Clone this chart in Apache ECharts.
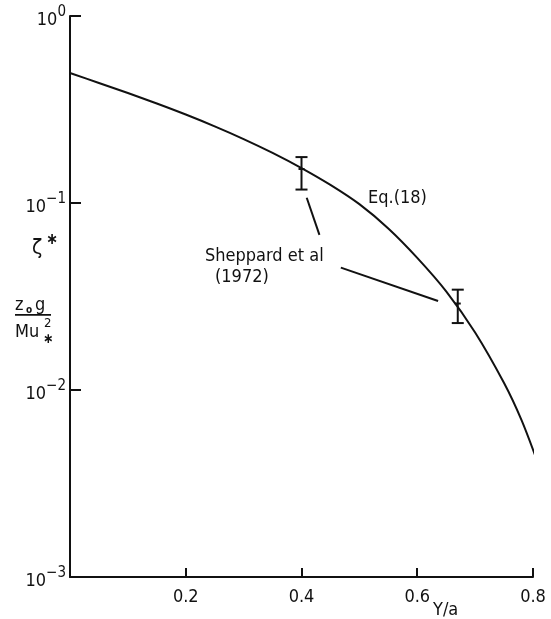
<!DOCTYPE html>
<html>
<head>
<meta charset="utf-8">
<script src="https://cdn.jsdelivr.net/npm/echarts@6/dist/echarts.min.js"></script>
<style>html,body{margin:0;padding:0;background:#fff;}#c{width:551px;height:619px;}</style>
</head>
<body>
<div id="c"></div>
<script>
// Curve Eq.(18)
const curveX = [0, 0.05, 0.1, 0.15, 0.2, 0.25, 0.3, 0.35, 0.4, 0.45, 0.5, 0.55, 0.6, 0.65, 0.7, 0.75, 0.78, 0.806];
const curveY = [0.4955, 0.4385, 0.3873, 0.3404, 0.2972, 0.2570, 0.2198, 0.1854, 0.1538, 0.1250, 0.0986, 0.0731, 0.0509, 0.0337, 0.0203, 0.01089, 0.00692, 0.00427];
// Sheppard et al (1972) error bars
const obsX = [0.4, 0.67];
const obsMid = [0.152, 0.029];
const obsLow = [0.118, 0.0228];
const obsHigh = [0.176, 0.0344];
// leader lines [x1, y1, x2, y2] in data units
const leaderLines = [[0.409, 0.1067, 0.431, 0.0675], [0.468, 0.0451, 0.636, 0.0299]];
// axis ticks
const xTickLabels = ['0.2', '0.4', '0.6', '0.8'];
const yTickExps = [0, -1, -2, -3];

const FONT = '"DejaVu Sans Condensed", "DejaVu Sans", sans-serif';
const INK = '#111';

const chart = echarts.init(document.getElementById('c'));
chart.setOption({
  animation: false,
  backgroundColor: '#fff',
  grid: { left: 70, top: 16, right: 18, bottom: 42 },
  xAxis: {
    type: 'value', min: 0, max: 0.8, interval: 0.2,
    axisLine: { show: true, lineStyle: { color: INK, width: 2 } },
    axisTick: { show: true, inside: true, length: 9, lineStyle: { color: INK, width: 2 } },
    splitLine: { show: false },
    axisLabel: {
      margin: 11, color: INK, fontFamily: FONT, fontSize: 18,
      formatter: function (v) {
        const s = v.toFixed(1);
        return xTickLabels.indexOf(s) >= 0 ? s : '';
      }
    }
  },
  yAxis: {
    type: 'log', logBase: 10, min: 0.001, max: 1,
    axisLine: { show: true, lineStyle: { color: INK, width: 2 } },
    axisTick: { show: true, inside: true, length: 11, lineStyle: { color: INK, width: 2 } },
    minorTick: { show: false },
    splitLine: { show: false },
    axisLabel: {
      margin: 4, color: INK, fontFamily: FONT, padding: [2, 0, 0, 0],
      formatter: function (v) {
        const e = Math.round(Math.log10(v));
        if (yTickExps.indexOf(e) < 0) return '';
        return '{b|10}{s|' + (e < 0 ? '\u2212' + (-e) : String(e)) + '}';
      },
      rich: {
        b: { fontSize: 18, fontFamily: FONT, color: INK, lineHeight: 24, verticalAlign: 'bottom' },
        s: { fontSize: 15, fontFamily: FONT, color: INK, lineHeight: 14, verticalAlign: 'top' }
      }
    }
  },
  series: [
    {
      type: 'line', smooth: 0.3, showSymbol: false,
      lineStyle: { color: INK, width: 2 },
      data: curveX.map((x, i) => [x, curveY[i]]),
      z: 3
    },
    {
      type: 'custom',
      data: obsX.map((x, i) => [x, obsMid[i], obsLow[i], obsHigh[i]]),
      encode: { x: 0, y: 1 },
      renderItem: function (params, api) {
        const x = api.value(0);
        const pm = api.coord([x, api.value(1)]);
        const pl = api.coord([x, api.value(2)]);
        const ph = api.coord([x, api.value(3)]);
        const hw = 6;
        const st = { stroke: INK, lineWidth: 2 };
        return {
          type: 'group',
          children: [
            { type: 'line', shape: { x1: ph[0], y1: ph[1], x2: pl[0], y2: pl[1] }, style: st },
            { type: 'line', shape: { x1: ph[0] - hw, y1: ph[1], x2: ph[0] + hw, y2: ph[1] }, style: st },
            { type: 'line', shape: { x1: pl[0] - hw, y1: pl[1], x2: pl[0] + hw, y2: pl[1] }, style: st },
            { type: 'line', shape: { x1: pm[0] - 3, y1: pm[1], x2: pm[0] + 3, y2: pm[1] }, style: st }
          ]
        };
      },
      z: 4
    },
    {
      type: 'custom',
      data: leaderLines,
      encode: { x: [0, 2], y: [1, 3] },
      renderItem: function (params, api) {
        const a = api.coord([api.value(0), api.value(1)]);
        const b = api.coord([api.value(2), api.value(3)]);
        return { type: 'line', shape: { x1: a[0], y1: a[1], x2: b[0], y2: b[1] }, style: { stroke: INK, lineWidth: 2 } };
      },
      z: 4
    }
  ],
  graphic: [
    { type: 'text', left: 368, top: 189, style: { text: 'Eq.(18)', font: '18px ' + FONT, fill: INK } },
    { type: 'text', left: 205, top: 247, style: { text: 'Sheppard et al', font: '18px ' + FONT, fill: INK } },
    { type: 'text', left: 215, top: 268, style: { text: '(1972)', font: '18px ' + FONT, fill: INK } },
    { type: 'text', left: 433, top: 601, style: { text: 'Y/a', font: '18px ' + FONT, fill: INK } },
    // y-axis title: zeta*
    { type: 'text', left: 32, top: 238, style: { text: '\u03B6', font: '21px ' + FONT, fill: INK } },
    { type: 'text', left: 46, top: 232, style: { text: '\u2217', font: 'bold 16px ' + FONT, fill: INK } },
    // fraction z0 g / M u*^2
    { type: 'text', left: 15, top: 296, style: { text: 'z', font: '18px ' + FONT, fill: INK } },
    { type: 'text', left: 26, top: 305, style: { text: 'o', font: 'bold 10px ' + FONT, fill: INK } },
    { type: 'text', left: 35, top: 296, style: { text: 'g', font: '18px ' + FONT, fill: INK } },
    { type: 'rect', shape: { x: 15, y: 314, width: 36, height: 1.8 }, style: { fill: INK } },
    { type: 'text', left: 15, top: 323, style: { text: 'Mu', font: '18px ' + FONT, fill: INK } },
    { type: 'text', left: 44, top: 317, style: { text: '2', font: '13px ' + FONT, fill: INK } },
    { type: 'text', left: 43, top: 332, style: { text: '\u2217', font: 'bold 14px ' + FONT, fill: INK } }
  ]
});
</script>
</body>
</html>
